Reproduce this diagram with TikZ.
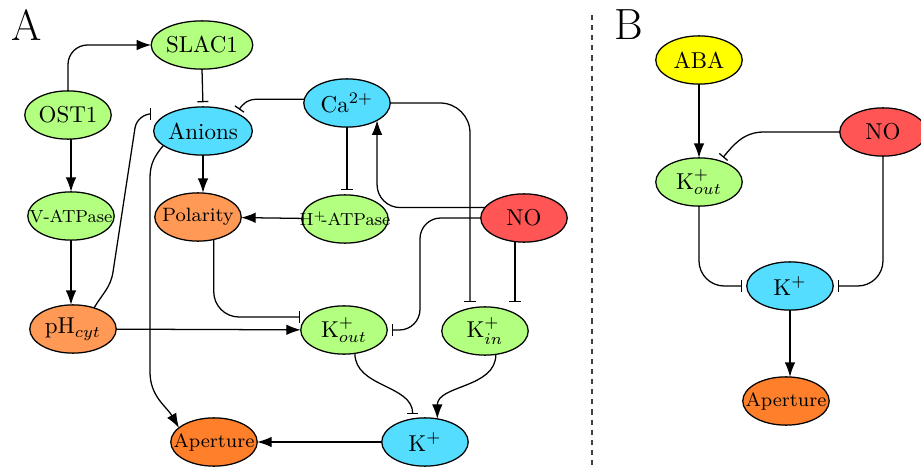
\documentclass[tikz,border=0pt]{standalone}
\usetikzlibrary{shapes.geometric,arrows.meta,calc}

\definecolor{cgreen}{HTML}{B3FF80}
\definecolor{cblue}{HTML}{55DDFF}
\definecolor{corange}{HTML}{FF9955}
\definecolor{caper}{HTML}{FF7F2A}
\definecolor{cred}{HTML}{FF5555}
\definecolor{cyellow}{HTML}{FFFF00}

% label that does not widen its ellipse
\newcommand\fitlabel[1]{\makebox[0pt]{#1}}

\tikzset{
  species/.style={ellipse, draw, line width=0.55pt, minimum width=37.6pt,
    minimum height=21pt, inner sep=0pt, outer sep=0pt},
  gnode/.style={species, fill=cgreen},
  bnode/.style={species, fill=cblue},
  onode/.style={species, fill=corange},
  anode/.style={species, fill=caper},
  rnode/.style={species, fill=cred},
  ynode/.style={species, fill=cyellow},
  act/.style={-{Latex[length=6.3pt,width=4.6pt]}, line width=0.55pt},
  inh/.style={-{Bar[width=4.8pt,line width=0.55pt]}, shorten >=2pt, line width=0.55pt},
  panel/.style={font=\fontsize{19}{22}\selectfont, inner sep=0pt},
  smalltext/.style={font=\fontsize{7.6}{9}\selectfont},
  midtext/.style={font=\fontsize{8.4}{10}\selectfont},
}

\begin{document}
\begin{tikzpicture}[x=0.435pt, y=-0.435pt]
\useasboundingbox (0,0) rectangle (921,468);

% ---------------- panel A ----------------
\node[panel] (labA) at (27,25) {A};

\node[gnode] (slac1) at (202,45) {SLAC1};
\node[gnode] (ost1) at (68,115) {OST1};
\node[bnode] (anions) at (203,131) {Anions};
\node[bnode] (ca) at (347,103) {Ca$^{2+}$};
\node[gnode, smalltext] (vatp) at (71,216) {\fitlabel{V-ATPase}};
\node[onode, midtext] (pol) at (198,217) {\fitlabel{Polarity}};
\node[gnode, smalltext] (hatp) at (345,219) {\fitlabel{H$^+$\kern-2.2pt-ATPase}};
\node[rnode] (no) at (524,218) {NO};
\node[onode] (ph) at (73,329) {pH$_{cyt}$};
\node[gnode] (kout) at (344,330) {K$^+_{out}$};
\node[gnode] (kin) at (485,331) {K$^+_{in}$};
\node[anode, midtext] (aper) at (214,442) {\fitlabel{Aperture}};
\node[bnode] (kplus) at (425,442) {K$^+$};

\coordinate (nobend) at (420,280);
\coordinate (pa1) at (113,272);
\coordinate (pa2) at (135,128);
\coordinate (aa1) at (150,178);
\coordinate (aa2) at (150,372);

\draw[act, rounded corners=8.5pt] (ost1.north) |- (slac1.west);
\draw[inh] (slac1.south) -- (anions.north);
\draw[act] (vatp.north |- ost1.south) -- (vatp.north);
\draw[act] (vatp.south) -- (vatp.south |- ph.north);
\draw[act] (anions.south) -- (anions.south |- pol.north);
\draw[act] (hatp) -- (pol);
\draw[inh] (ca.south) -- (ca.south |- hatp.north);
\draw[inh] (ca.175) -- ++(-48,0) to[out=180,in=55] (anions.28);
\draw[act, rounded corners=10pt] (no.165) -| (ca.-30);
\draw[inh, rounded corners=13pt] (ca.east) -| ($(kin.north)+(-15,0)$);
\draw[inh] ($(no.south)+(-9,0)$) -- ($(kin.north)+(30,0)$);
\draw[inh, rounded corners=9pt] (no.west) -| (nobend) |- (kout.east);
\draw[inh, rounded corners=11pt] (pol.-55) |- ($(kout.west)+(4,-13)$);
\draw[act] (ph) -- (kout);
\draw[inh] (ph.45) to[out=60,in=-98.6] (pa1) -- (pa2)
  to[out=81.4,in=180] ($(anions.west)+(2,-17)$);
\draw[act] (anions.200) to[out=230,in=90] (aa1) -- (aa2)
  to[out=-90,in=120] (aper.158);
\draw[inh] (kout.-65) to[out=-90,in=90] (kplus.118);
\draw[act] (kin.-65) to[out=-90,in=90] (kplus.62);
\draw[act] (kplus) -- (aper);

% divider
\coordinate (divtop) at (592,15);
\coordinate (divbot) at (592,468);
\draw[black!75, line width=0.55pt, dash pattern=on 2.2pt off 2.2pt] (divtop) -- (divbot);

% ---------------- panel B ----------------
\node[panel] (labB) at (629,25) {B};

\node[ynode] (aba) at (699,60) {ABA};
\node[gnode] (koutb) at (699,182) {K$^+_{out}$};
\node[rnode] (nob) at (883,132) {NO};
\node[bnode] (kplusb) at (790,286) {K$^+$};
\node[anode, midtext] (apb) at (786,401) {\fitlabel{Aperture}};

\draw[act] (aba) -- (koutb);
\draw[inh] (nob.west) -- ++(-76,0) to[out=180,in=50] (koutb.45);
\draw[inh, rounded corners=11pt] (koutb.south) |- (kplusb.west);
\draw[inh, rounded corners=11pt] (nob.south) |- (kplusb.east);
\draw[act] (kplusb.south) -- (kplusb.south |- apb.north);
\end{tikzpicture}
\end{document}
